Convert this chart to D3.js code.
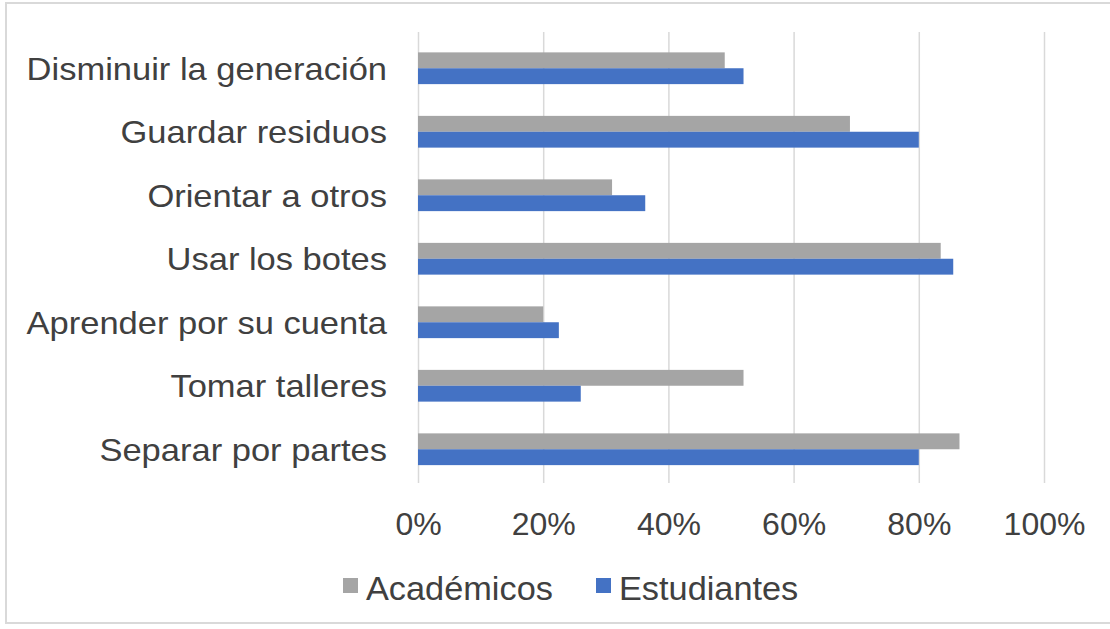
<!DOCTYPE html>
<html><head><meta charset="utf-8">
<script src="https://cdn.jsdelivr.net/npm/d3@7"></script>
<style>
html,body{margin:0;padding:0;background:#fff;}
svg{display:block;}
text{font-family:"Liberation Sans",Arial,sans-serif;}
</style></head>
<body>
<svg id="chart" width="1110" height="629"></svg>
<script>
const categories = ["Disminuir la generación","Guardar residuos","Orientar a otros","Usar los botes","Aprender por su cuenta","Tomar talleres","Separar por partes"];
const seriesNames = ["Académicos","Estudiantes"];
const academicos = [0.49, 0.69, 0.31, 0.835, 0.20, 0.52, 0.865];
const estudiantes = [0.52, 0.80, 0.363, 0.855, 0.225, 0.26, 0.80];
const tickValues = [0, 0.2, 0.4, 0.6, 0.8, 1.0];
const colors = ["#a5a5a5", "#4472c4"];

const svg = d3.select("#chart");
const W = 1110, H = 629;

// outer frame
svg.append("rect").attr("x", 6).attr("y", 3).attr("width", W + 10).attr("height", 620)
  .attr("fill", "#fff").attr("stroke", "#d9d9d9").attr("stroke-width", 2);

const x = d3.scaleLinear().domain([0, 1]).range([418, 1044]);
const y = d3.scaleBand().domain(categories).range([36.5, 481]).paddingInner(0.5).paddingOuter(0.25);
const ySub = d3.scaleBand().domain(seriesNames).range([0, y.bandwidth()]);

// gridlines
const grid = d3.axisBottom(x).tickValues(tickValues).tickSize(-(483 - 32)).tickFormat("");
const gg = svg.append("g").attr("transform", "translate(0,483)").call(grid);
gg.select(".domain").remove();
gg.selectAll("line").attr("stroke", "#d9d9d9").attr("stroke-width", 1.5);

// bars
const data = categories.map((c, i) => ({cat: c, vals: [academicos[i], estudiantes[i]]}));
const groups = svg.append("g").selectAll("g").data(data).join("g")
  .attr("transform", d => `translate(0,${y(d.cat)})`);
groups.selectAll("rect").data(d => d.vals.map((v, j) => ({v, s: seriesNames[j], j})))
  .join("rect")
  .attr("x", x(0))
  .attr("y", d => ySub(d.s))
  .attr("width", d => x(d.v) - x(0))
  .attr("height", ySub.bandwidth())
  .attr("fill", d => colors[d.j]);

// category axis labels (slightly widened to match the reference's stretched text)
const yAxis = d3.axisLeft(y).tickSize(0).tickPadding(0);
const ya = svg.append("g").attr("transform", "translate(387,0) scale(1.078,1)").call(yAxis);
ya.select(".domain").remove();
ya.selectAll("text").attr("font-size", 32).attr("fill", "#404040")
  .attr("font-family", "'Liberation Sans', Arial, sans-serif")
  .attr("dy", "0.36em").attr("x", 0);

// x axis labels
const xAxis = d3.axisBottom(x).tickValues(tickValues).tickFormat(d3.format(".0%")).tickSize(0).tickPadding(0);
const xa = svg.append("g").attr("transform", "translate(0,535)").call(xAxis);
xa.select(".domain").remove();
xa.selectAll("text").attr("font-size", 32).attr("fill", "#404040")
  .attr("font-family", "'Liberation Sans', Arial, sans-serif").attr("dy", 0);

// legend
const legendX = [343, 596];
const lg = svg.append("g").selectAll("g").data(seriesNames).join("g")
  .attr("transform", (d, i) => `translate(${legendX[i]},578)`);
lg.append("rect").attr("width", 15).attr("height", 15).attr("fill", (d, i) => colors[i]);
lg.append("text").attr("x", 23).attr("y", 22).attr("font-size", 33).attr("fill", "#404040")
  .attr("transform", "scale(1.04,1)").attr("transform-origin", "23 0")
  .text(d => d);
</script>
</body></html>
